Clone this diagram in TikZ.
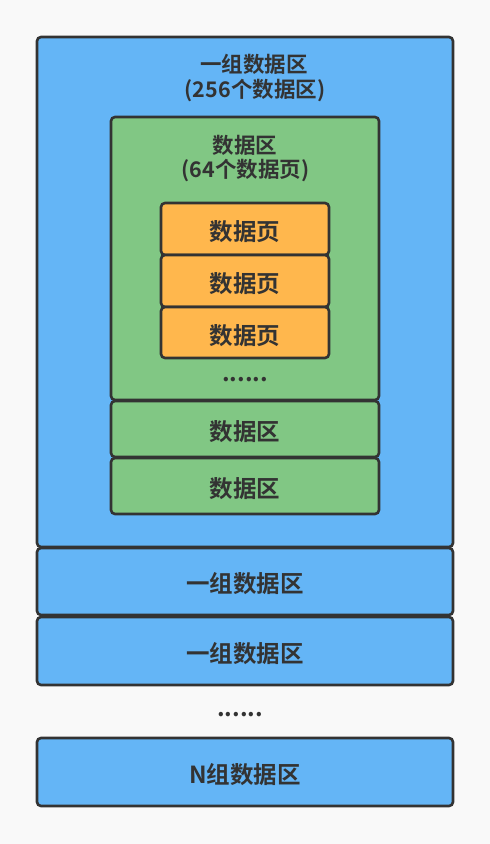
\documentclass[tikz,border=0pt]{standalone}
\usepackage{fontspec}
\newfontfamily\cjk[BoldFont={Noto Sans CJK SC Bold}]{Noto Sans CJK SC}
\definecolor{bg}{HTML}{F9F9F9}
\definecolor{bluef}{HTML}{64B5F6}
\definecolor{greenf}{HTML}{81C784}
\definecolor{orangef}{HTML}{FFB74D}
\definecolor{edge}{HTML}{333333}
\tikzset{
  box/.style={draw=edge, line width=2.6pt, rounded corners=4pt},
  bluebox/.style={box, fill=bluef},
  greenbox/.style={box, fill=greenf},
  orangebox/.style={box, fill=orangef},
  lbl/.style={text=edge, font=\cjk\bfseries\fontsize{23.5}{27}\selectfont, inner sep=0pt, align=center},
  ttl/.style={lbl, font=\cjk\bfseries\fontsize{21.5}{25}\selectfont},
}
\begin{document}
\begin{tikzpicture}[x=1pt,y=-1pt]
\fill[bg] (0,0) rectangle (490,844);
\useasboundingbox (0,0) rectangle (490,844);
% outer group
\draw[bluebox] (37,37) rectangle (453,547);
\node[ttl] (g1t) at (254,64) {一组数据区};
\node[ttl] (g1s) at (255,91) {(256个数据区)};
% data area
\draw[greenbox] (111,117) rectangle (379,400);
\node[ttl] (a1t) at (245,145) {数据区};
\node[ttl] (a1s) at (245.5,171) {(64个数据页)};
\draw[orangebox] (161,203) rectangle (329,255);
\node[lbl] (p1) at (245,232) {数据页};
\draw[orangebox] (161,255) rectangle (329,307);
\node[lbl] (p2) at (245,284) {数据页};
\draw[orangebox] (161,307) rectangle (329,358);
\node[lbl] (p3) at (245,336) {数据页};
\node[lbl] (d1) at (245,380) {......};
\draw[greenbox] (111,401) rectangle (379,457);
\node[lbl] (a2) at (245,432) {数据区};
\draw[greenbox] (111,458) rectangle (379,514);
\node[lbl] (a3) at (245,489) {数据区};
% other groups
\draw[bluebox] (37,548) rectangle (453,615);
\node[lbl] (g2) at (245,584) {一组数据区};
\draw[bluebox] (37,617) rectangle (453,685);
\node[lbl] (g3) at (245,654) {一组数据区};
\node[lbl] (d2) at (240,715) {......};
\draw[bluebox] (37,738) rectangle (453,806);
\node[lbl] (gn) at (245,775) {N组数据区};
\end{tikzpicture}
\end{document}
